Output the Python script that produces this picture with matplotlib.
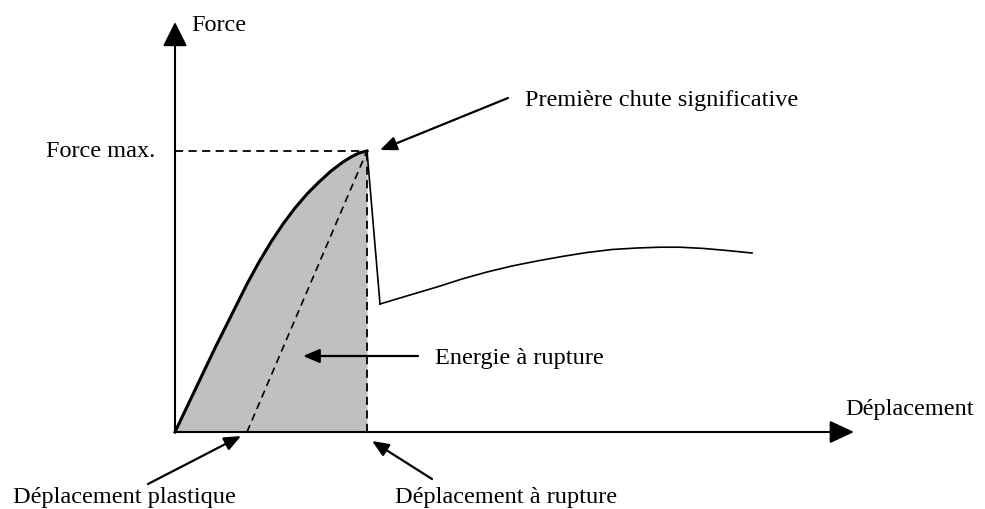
import matplotlib
matplotlib.use("Agg")
import matplotlib.pyplot as plt

plt.rcParams['font.family'] = ['Liberation Serif', 'DejaVu Serif']

# ================= données (unités schématiques, origine = axes) =================
# courbe de chargement jusqu'à la force max
charge_x = [0, 20, 40, 60, 72, 84, 96, 108, 120, 132, 144, 156, 168, 176, 184, 192]
charge_y = [0, 42, 84, 124, 148, 170, 190, 208, 224, 238, 250, 261, 270, 275, 279, 281]

# chute puis reprise de la force
chute_x = [192, 205]
chute_y = [281, 128]
reprise_x = [205, 235, 262, 287, 312, 337, 362, 387, 412, 437, 462, 485, 505, 528, 552, 577]
reprise_y = [128, 137, 145, 153, 160, 166, 171, 175.5, 179.5, 182.5, 184, 184.8, 184.8, 183.6, 181.5, 179]

# déplacement plastique (décharge élastique) et déplacement à rupture
dep_plastique = 72
dep_rupture = 192
force_max = 281

# limites des axes dessinés
x_fin = 679
y_fin = 410

fig = plt.figure(figsize=(9.85, 5.10), dpi=100)
ax = fig.add_axes([0, 0, 1, 1])
ax.set_xlim(-175, 810)
ax.set_ylim(-77, 433)
ax.axis('off')

# zone grisée = énergie à rupture
ax.fill_between(charge_x, charge_y, 0, color='#c0c0c0', lw=0)

# axes avec flèches
ax.annotate('', xy=(0, y_fin), xytext=(0, 0),
            arrowprops=dict(arrowstyle='-|>,head_length=15,head_width=7.5', mutation_scale=1,
                            lw=1.5, color='black', shrinkA=0, shrinkB=0))
ax.annotate('', xy=(x_fin, 0), xytext=(0, 0),
            arrowprops=dict(arrowstyle='-|>,head_length=15,head_width=7',  mutation_scale=1,
                            lw=1.5, color='black', shrinkA=0, shrinkB=0))

# lignes pointillées
tirets = (0, (4.5, 3))
ax.plot([0, dep_rupture], [force_max, force_max], color='black', lw=1.3, ls=tirets)
ax.plot([dep_rupture, dep_rupture], [0, force_max], color='black', lw=1.3, ls=tirets)
ax.plot([dep_plastique, dep_rupture], [0, force_max], color='black', lw=1.2, ls=tirets)

# courbes
ax.plot(charge_x, charge_y, color='black', lw=2.2, solid_joinstyle='round')
ax.plot(chute_x, chute_y, color='black', lw=1.2)
ax.plot(reprise_x, reprise_y, color='black', lw=1.2, solid_joinstyle='round')

# textes
fs = 17.5
ax.text(16, 402, 'Force', fontsize=fs, va='baseline', ha='left')
ax.text(-129, 276, 'Force max.', fontsize=fs, va='baseline', ha='left')
ax.text(350, 327, 'Première chute significative', fontsize=fs, va='baseline', ha='left')
ax.text(260, 69, 'Energie à rupture', fontsize=fs, va='baseline', ha='left')
ax.text(670, 18, 'Déplacement', fontsize=fs, va='baseline', ha='left')
ax.text(-162, -70, 'Déplacement plastique', fontsize=fs, va='baseline', ha='left')
ax.text(220, -70, 'Déplacement à rupture', fontsize=fs, va='baseline', ha='left')

# flèches d'annotation
fleche = dict(arrowstyle='-|>,head_length=10,head_width=4.2', mutation_scale=1,
              lw=1.6, color='black', shrinkA=0, shrinkB=0)
ax.annotate('', xy=(205, 282), xytext=(333, 334), arrowprops=fleche)
ax.annotate('', xy=(128, 76), xytext=(243, 76), arrowprops=fleche)
ax.annotate('', xy=(66, -4), xytext=(-27, -52), arrowprops=fleche)
ax.annotate('', xy=(197, -9), xytext=(257, -47), arrowprops=fleche)

fig.savefig('out.png', dpi=100)
